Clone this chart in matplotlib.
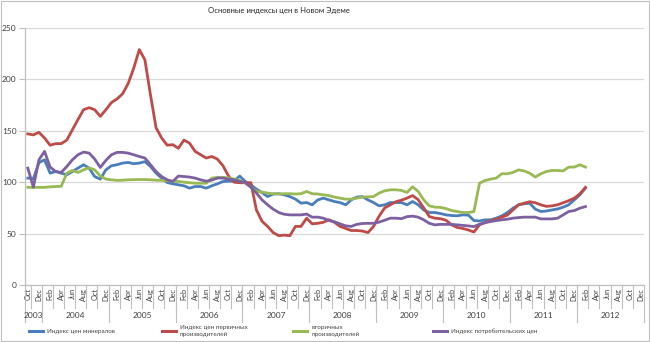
import numpy as np
import matplotlib
matplotlib.use("Agg")
import matplotlib.pyplot as plt
from matplotlib.lines import Line2D
from matplotlib.patches import Rectangle

plt.rcParams['font.family'] = ['Lato', 'DejaVu Sans']

title = "Основные индексы цен в Новом Эдеме"

# monthly categories Oct 2003 .. Dec 2012
month_names = ['Jan', 'Feb', 'Mar', 'Apr', 'May', 'Jun',
               'Jul', 'Aug', 'Sep', 'Oct', 'Nov', 'Dec']
start_year, start_month = 2003, 10
n_categories = 111
years = [2003, 2004, 2005, 2006, 2007, 2008, 2009, 2010, 2011, 2012]

series_names = ["Индекс цен минералов",
                "Индекс цен первичных\nпроизводителей",
                "вторичных\nпроизводителей",
                "Индекс потребительских цен"]

minerals = [104, 103.5, 119, 121.8, 108.8, 110.4, 108.8, 107.2, 110.4, 113.7,
            117, 113.7, 105.5, 103, 112, 116, 117, 118.6, 119.2, 118,
            118.6, 120, 115.3, 108.8, 104, 99.7, 98.4, 97.5, 96.5, 94.2,
            95.8, 95.8, 94.2, 96.5, 98.4, 100.7, 101, 101, 106, 100.7,
            97.5, 93.2, 90, 86, 88.5, 88.8, 87.7, 86, 83.5, 79.6,
            80.2, 78, 82.8, 84.5, 82.8, 81.2, 80.2, 78, 82.8, 85.5,
            86, 82.8, 80.2, 77, 78, 80.2, 80.2, 80.2, 78, 81.2,
            78, 73, 70.5, 70.5, 69.5, 68.2, 67.6, 67.3, 68.2, 68,
            62.7, 62.3, 63.4, 63.4, 65, 67.3, 70.5, 74.7, 78, 79,
            79.6, 73.8, 71.5, 72, 73, 74, 75.7, 78, 82.8, 87.7,
            94.2]

primary = [147, 146, 148.5, 143, 136, 137.5, 137.5, 141, 151, 161,
           170.5, 172.5, 170.5, 164, 170.5, 177.5, 181, 186, 196, 211,
           229, 219, 185, 153, 143, 136, 136.5, 133, 141, 138,
           130, 126.7, 123.5, 125, 122.5, 116, 106, 100, 99.5, 99.5,
           99.5, 73, 62, 57, 51, 48, 48.5, 48, 57, 57,
           65, 59.5, 60, 61, 63.5, 61, 57, 55, 53, 53,
           52.5, 51, 57, 67, 75, 78, 81, 82.5, 84.5, 87,
           83, 75, 66.6, 65, 64.5, 63, 58.5, 56, 55, 53.5,
           51.5, 58.5, 60.7, 62.7, 64, 66, 68, 73, 78, 79.6,
           81, 80, 78, 76.5, 77, 78, 80, 82, 84.5, 88.7,
           95]

secondary = [95, 95, 95, 95, 95.5, 95.8, 96, 108.8, 111.4, 109.5,
             112, 114, 112, 106, 103, 102.3, 101.8, 102, 102.3, 102.5,
             102.6, 102.6, 102.3, 102, 101.8, 101.5, 101, 100.7, 100, 99.5,
             99, 99, 99, 104, 104.6, 104.6, 104.3, 103, 101.7, 99,
             95.2, 91, 90.4, 89.4, 88.8, 88.5, 88.8, 88.8, 88.5, 88.8,
             91, 88.8, 88.5, 87.7, 87, 85.5, 84.5, 83.5, 83.5, 84.5,
             85.5, 85.8, 86, 89.4, 91.6, 92.6, 92.6, 92, 90, 95.5,
             91, 82.8, 77, 75.7, 75.5, 74.3, 72.4, 71.5, 70.5, 70.5,
             71.5, 99, 101.7, 103, 104, 108.2, 108.2, 109.5, 112, 111,
             108.8, 105, 108.2, 110.4, 111.4, 111.4, 111, 114.7, 114.7, 117,
             114.7]

consumer = [113.7, 95.2, 121.8, 130, 114.7, 110.4, 109.5, 115.3, 121.8, 126.7,
            129.3, 128.3, 122.5, 114.3, 121.2, 126.7, 129, 129, 128.3, 126.7,
            125, 123.5, 117, 110.4, 105.5, 102.3, 100.7, 106, 105.5, 105,
            104, 102.3, 101, 102, 104, 104, 103, 102.3, 100.7, 99.7,
            95.2, 89.4, 82.8, 78, 73.8, 70.5, 68.8, 68.2, 68.2, 68.2,
            69, 66, 66, 65, 62.7, 61.5, 59.5, 57.5, 57, 59,
            59.8, 60, 60, 61.2, 63, 65, 65, 64.5, 66.5, 67,
            66, 63.4, 60, 58.5, 59, 59, 59, 58.5, 58, 57.5,
            56.8, 59.1, 60.7, 61.7, 62.7, 63.4, 64, 65, 65.6, 66,
            66, 66, 64.3, 64.3, 64.3, 65, 68.2, 71.5, 72.4, 74.7,
            76.3]

colors = ['#4a7ebb', '#be4b48', '#98b954', '#7d60a0']
grid_col = '#d9d9d9'
axis_col = '#bfbfbf'
text_col = '#404040'

fig = plt.figure(figsize=(6.5, 3.42), dpi=100)
ax = fig.add_axes([25 / 650, 1 - 285 / 342, 619 / 650, 257 / 342])

for vals, c in zip([minerals, primary, secondary, consumer], colors):
    ax.plot(np.arange(len(vals)), vals, color=c, lw=2.0, solid_joinstyle='round')

ax.set_xlim(-0.5, n_categories - 0.5)
ax.set_ylim(0, 250)
ax.set_yticks(range(0, 251, 50))
ax.yaxis.grid(True, color=grid_col, lw=0.9)
ax.set_axisbelow(True)
ax.tick_params(axis='y', length=4, color=axis_col, labelsize=6, labelcolor=text_col, pad=2)
for s in ['top', 'right']:
    ax.spines[s].set_visible(False)
for s in ['left', 'bottom']:
    ax.spines[s].set_color(axis_col)
    ax.spines[s].set_linewidth(0.9)

# month labels every second category
labels = []
for i in range(n_categories):
    m = (start_month - 1 + i) % 12
    labels.append(month_names[m])
ax.set_xticks(range(0, n_categories, 2))
ax.set_xticklabels(labels[::2], rotation=90, fontsize=5.3, color=text_col)
ax.tick_params(axis='x', length=0, pad=2)

trans = ax.get_xaxis_transform()
month_bottom = -0.09
year_bottom = -0.145
for k in range(1, n_categories, 2):
    ax.plot([k - 0.5, k - 0.5], [0, month_bottom], transform=trans,
            color=axis_col, lw=0.8, clip_on=False)

# year groups
bounds = []
for y in years:
    first = (y - start_year) * 12 - (start_month - 1)
    lo = max(first, 0)
    hi = min(first + 12, n_categories)
    bounds.append((lo, hi))
    ax.text((lo + hi - 1) / 2, -0.117, str(y), transform=trans,
            ha='center', va='center', fontsize=6, color=text_col)
edges = sorted(set([b[0] for b in bounds] + [b[1] for b in bounds]))
for e in edges:
    ax.plot([e - 0.5, e - 0.5], [0, year_bottom], transform=trans,
            color=axis_col, lw=0.8, clip_on=False)

fig.text(279 / 650, 1 - 11 / 342, title, ha='center', va='center',
         fontsize=5.6, color='#262626')

# legend
leg_x = [29, 162, 293, 433]
leg_y = 1 - 331 / 342
for x0, c, name in zip(leg_x, colors, series_names):
    fig.add_artist(Line2D([x0 / 650, (x0 + 14) / 650], [leg_y, leg_y],
                          color=c, lw=2.2, transform=fig.transFigure))
    fig.text((x0 + 18) / 650, leg_y, name, ha='left', va='center',
             fontsize=4.5, color=text_col, linespacing=1.6)

fig.add_artist(Rectangle((0.002, 0.003), 0.996, 0.994, transform=fig.transFigure,
                         fill=False, ec='#c0c0c0', lw=0.8))

fig.savefig("out.png", dpi=100)
